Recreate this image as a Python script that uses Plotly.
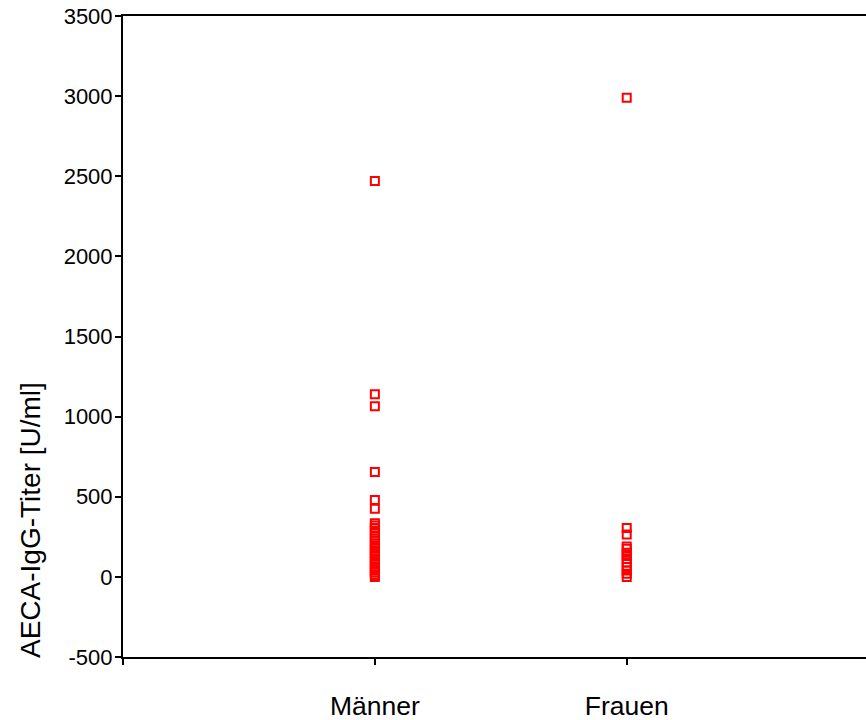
import plotly.graph_objects as go

categories = ["Männer", "Frauen"]
cat_pos = [1, 2]

maenner_values = [2470, 1140, 1065, 655, 480, 425,
                  335, 320, 305, 290, 275, 256, 240, 225, 210, 195, 180, 165, 150,
                  138, 125, 110, 95, 80, 65, 50, 38, 25, 12, 0]
frauen_values = [2990, 305, 265, 190, 175, 150, 130, 112, 90, 62, 40, 20, 0]

y_ticks = [-500, 0, 500, 1000, 1500, 2000, 2500, 3000, 3500]
y_tick_labels = ["-500", "0", "500", "1000", "1500", "2000", "2500", "3000", "3500"]

FONT = "Arial, Liberation Sans, sans-serif"

fig = go.Figure()
for pos, vals in zip(cat_pos, [maenner_values, frauen_values]):
    fig.add_trace(go.Scatter(
        x=[pos] * len(vals), y=vals, mode="markers",
        marker=dict(symbol="square-open", size=8, color="#ff0000",
                    line=dict(width=2, color="#ff0000")),
        showlegend=False, cliponaxis=False,
    ))

L, T, B = 123, 16, 63
PW, PH = 866 - L, 720 - T - B

fig.update_layout(
    width=866, height=720,
    margin=dict(l=L, r=0, t=T, b=B),
    paper_bgcolor="white", plot_bgcolor="white",
    font=dict(family=FONT, color="black"),
    xaxis=dict(range=[0, 2.95], tickvals=[0] + cat_pos, ticktext=[""] + categories,
               showline=True, linecolor="black", linewidth=2, mirror=True,
               ticks="outside", ticklen=6, tickwidth=2, tickcolor="black",
               tickfont=dict(size=26.5, family=FONT), ticklabelstandoff=18,
               showgrid=False, zeroline=False, automargin=False),
    yaxis=dict(range=[-500, 3500], tickvals=y_ticks, ticktext=y_tick_labels,
               showline=True, linecolor="black", linewidth=2,
               ticks="outside", ticklen=6, tickwidth=2, tickcolor="black",
               tickfont=dict(size=22, family=FONT), ticklabelstandoff=-2,
               showgrid=False, zeroline=False, automargin=False),
    annotations=[dict(text="AECA-IgG-Titer [U/ml]", textangle=-90,
                      xref="paper", yref="paper",
                      x=(30 - L) / PW, y=(T + PH - 520) / PH,
                      xanchor="center", yanchor="middle", showarrow=False,
                      font=dict(size=28, family=FONT, color="black"))],
)

fig.write_html("out.html", config={"displayModeBar": False},
               post_script="document.body.style.margin='0';")
